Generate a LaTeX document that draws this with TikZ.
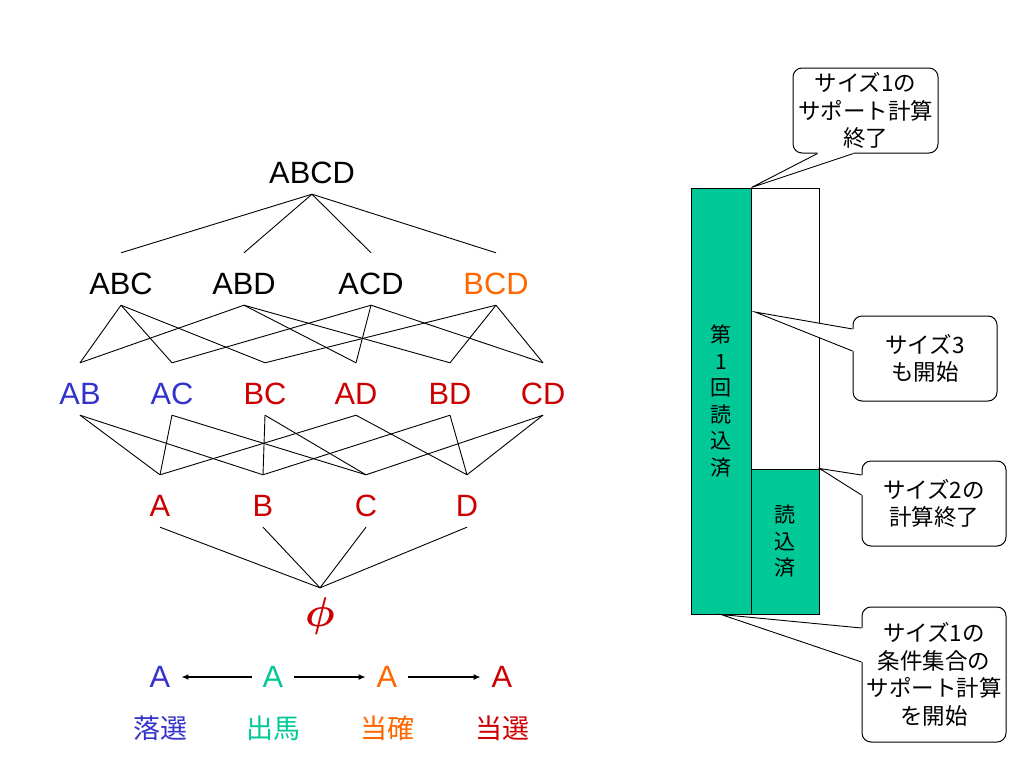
\RequirePackage{fix-cm}
\documentclass[tikz,border=0pt]{standalone}
\usepackage{fontspec}
\setmainfont{Liberation Sans}
\newfontfamily\jp{Noto Sans CJK JP}
\usepackage{xcolor}
\usepackage{tikz}
\usetikzlibrary{arrows.meta,positioning,calc}
\definecolor{cblue}{HTML}{3333CC}
\definecolor{cred}{HTML}{CC0000}
\definecolor{corange}{HTML}{FF6600}
\definecolor{cgreen}{HTML}{00C896}

\begin{document}
\begin{tikzpicture}[
  x=1pt,y=-1pt,
  font=\fontsize{30.8}{36}\selectfont,
  item/.style={anchor=base,inner sep=0pt,text height=41pt,text depth=11pt},
  state/.style={inner xsep=11pt,inner ysep=2pt},
  tag/.style={font=\jp\fontsize{27}{32}\selectfont},
  link/.style={line width=0.9pt},
  trans/.style={line width=1.2pt,-{Latex[length=7pt,width=6pt]}},
  bar/.style={draw,line width=1pt,align=center,inner sep=0pt,
              font=\jp\fontsize{21}{26.6}\selectfont},
  callbox/.style={draw,line width=1pt,fill=white,rounded corners=9pt,
                  align=center,minimum width=144pt,minimum height=85pt,
                  font=\jp\fontsize{22.5}{27.5}\selectfont}
]
\useasboundingbox (0,0) rectangle (1024,768);

% lattice
\node[item] (abcd) at (312,183) {ABCD};
\node[item] (abc) at (121,294) {ABC};
\node[item] (abd) at (244,294) {ABD};
\node[item] (acd) at (371,294) {ACD};
\node[item,text=corange] (bcd) at (496,294) {BCD};
\node[item,text=cblue] (ab) at (80,404) {AB};
\node[item,text=cblue] (ac) at (172,404) {AC};
\node[item,text=cred] (bc) at (265,404) {BC};
\node[item,text=cred] (ad) at (356,404) {AD};
\node[item,text=cred] (bd) at (450,404) {BD};
\node[item,text=cred] (cd) at (543,404) {CD};
\node[item,text=cred] (a) at (160,516) {A};
\node[item,text=cred] (b) at (263,516) {B};
\node[item,text=cred] (c) at (366,516) {C};
\node[item,text=cred] (d) at (467,516) {D};
\node[item,text=cred,text height=38pt] (phi) at (320,626)
  {\scalebox{1.35}{\boldmath$\phi$}};

\foreach \u in {abc,abd,acd,bcd}
  \draw[link] (abcd.south) -- (\u.north);
\foreach \u/\v in {abc/ab,abc/ac,abc/bc,abd/ab,abd/ad,abd/bd,
                   acd/ac,acd/ad,acd/cd,bcd/bc,bcd/bd,bcd/cd,
                   ab/a,ab/b,ac/a,ac/c,bc/b,bc/c,
                   ad/a,ad/d,bd/b,bd/d,cd/c,cd/d}
  \draw[link] (\u.south) -- (\v.north);
\foreach \u in {a,b,c,d}
  \draw[link] (\u.south) -- (phi.north);

% states
\node[state,text=cblue] (lose) at (160,677) {A};
\node[state,text=cgreen] (run) at (273,677) {A};
\node[state,text=corange] (sure) at (387,677) {A};
\node[state,text=cred] (win) at (502,677) {A};
\draw[trans] (run) -- (lose);
\draw[trans] (run) -- (sure);
\draw[trans] (sure) -- (win);
\node[tag,text=cblue] (t-lose) at (160,728) {落選};
\node[tag,text=cgreen] (t-run) at (273,728) {出馬};
\node[tag,text=corange] (t-sure) at (387,728) {当確};
\node[tag,text=cred] (t-win) at (502,728) {当選};

% read bars
\node[bar,fill=cgreen,minimum width=60pt,minimum height=426pt] (rd1)
  at (721,401) {第\\1\\回\\読\\込\\済};
\node[bar,minimum width=68pt,minimum height=281pt] (rw) at (785,328.5) {};
\node[bar,fill=cgreen,minimum width=68pt,minimum height=145pt] (rd2)
  at (785,541.5) {読\\込\\済};

% callouts
\node[callbox,minimum width=145pt] (c1) at (865.5,110.5)
  {サイズ1の\\サポート計算\\終了};
\node[callbox] (c2) at (925,358.5) {サイズ3\\も開始};
\node[callbox] (c3) at (934,503.5) {サイズ2の\\計算終了};
\node[callbox,minimum height=135pt] (c4) at (934,674.5)
  {サイズ1の\\条件集合の\\サポート計算\\を開始};
\coordinate (t2) at (755,312);

\fill[white] ($(c1.south)+(-48,-2)$) -- ($(c1.south)+(-48,0)$) -- (rd1.north east)
  -- ($(c1.south)+(-12,0)$) -- ($(c1.south)+(-12,-2)$) -- cycle;
\draw[link] ($(c1.south)+(-48,0)$) -- (rd1.north east) -- ($(c1.south)+(-12,0)$);
\fill[white] ($(c2.west)+(2,-29.5)$) -- ($(c2.west)+(0,-29.5)$) -- (t2)
  -- ($(c2.west)+(0,-7.5)$) -- ($(c2.west)+(2,-7.5)$) -- cycle;
\draw[link] ($(c2.west)+(0,-29.5)$) -- (t2) -- ($(c2.west)+(0,-7.5)$);
\fill[white] ($(c3.west)+(2,-28.5)$) -- ($(c3.west)+(0,-28.5)$) -- (rd2.north east)
  -- ($(c3.west)+(0,-8.5)$) -- ($(c3.west)+(2,-8.5)$) -- cycle;
\draw[link] ($(c3.west)+(0,-28.5)$) -- (rd2.north east) -- ($(c3.west)+(0,-8.5)$);
\fill[white] ($(c4.west)+(2,-46.5)$) -- ($(c4.west)+(0,-46.5)$) -- (rd1.south)
  -- ($(c4.west)+(0,-12.5)$) -- ($(c4.west)+(2,-12.5)$) -- cycle;
\draw[link] ($(c4.west)+(0,-46.5)$) -- (rd1.south) -- ($(c4.west)+(0,-12.5)$);
\end{tikzpicture}
\end{document}
